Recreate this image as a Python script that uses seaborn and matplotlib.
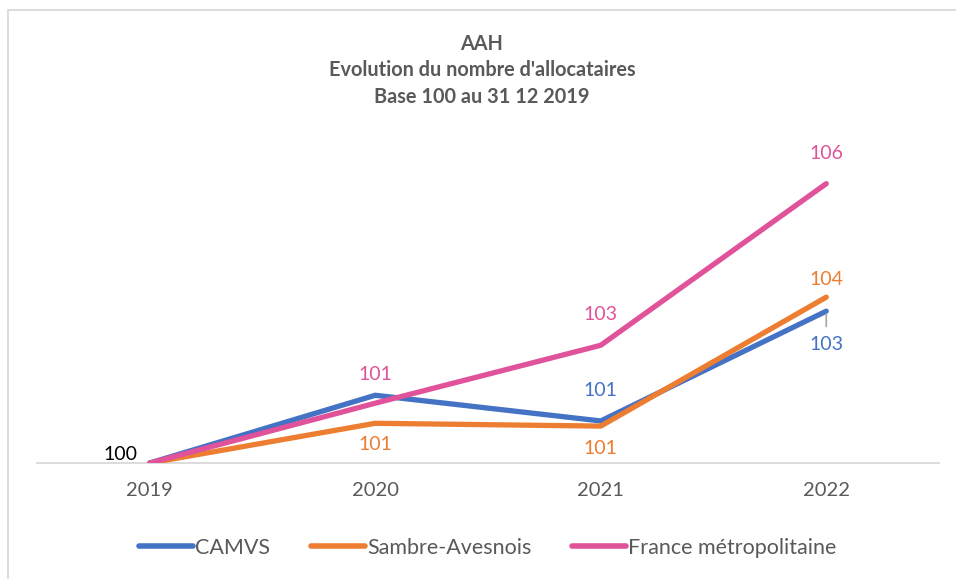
import numpy as np
import pandas as pd
import matplotlib
matplotlib.use("Agg")
import matplotlib.pyplot as plt
from matplotlib.patches import Rectangle
import seaborn as sns

# Data (base 100 at 31/12/2019)
years = ["2019", "2020", "2021", "2022"]
camvs = [100, 101.45, 100.9, 103.25]
sambre = [100, 100.85, 100.79, 103.55]
france = [100, 101.28, 102.52, 105.98]
series_names = ["CAMVS", "Sambre-Avesnois", "France métropolitaine"]
colors = ["#4472C4", "#ED7D31", "#E0529A"]

df = pd.DataFrame({
    "annee": years * 3,
    "valeur": camvs + sambre + france,
    "serie": np.repeat(series_names, len(years)),
})

sns.set_theme(style="white")
plt.rcParams["font.family"] = ["Lato", "DejaVu Sans"]

fig = plt.figure(figsize=(9.56, 5.79), dpi=100)
ax = fig.add_axes([37 / 956, 1 - 463 / 579, 902 / 956, 327 / 579])

sns.lineplot(data=df, x="annee", y="valeur", hue="serie", palette=colors,
             linewidth=3.8, sort=False, ax=ax, legend=True)
for line in ax.lines:
    line.set_solid_capstyle("round")
    line.set_solid_joinstyle("round")

ax.set_xlim(-0.5, 3.5)
ax.set_ylim(100, 107)
ax.set_xlabel("")
ax.set_ylabel("")
ax.set_yticks([])
ax.tick_params(axis="x", length=0, pad=14, labelsize=14.5, labelcolor="#595959")
for side in ["top", "right", "left"]:
    ax.spines[side].set_visible(False)
ax.spines["bottom"].set_color("#D9D9D9")
ax.spines["bottom"].set_linewidth(1.3)
ax.spines["bottom"].set_zorder(0)

# data labels (series index, year index, offset in points)
label_pos = [
    (1, 0, (-9, 6), "right", "#000000"),
    (2, 1, (0, 21), "center", None),
    (1, 1, (0, -15), "center", None),
    (0, 2, (0, 22), "center", None),
    (1, 2, (0, -16), "center", None),
    (2, 2, (0, 22), "center", None),
    (2, 3, (0, 22), "center", None),
    (1, 3, (0, 13), "center", None),
    (0, 3, (0, -24), "center", None),
]
all_vals = [camvs, sambre, france]
for s, i, off, ha, col in label_pos:
    v = all_vals[s][i]
    ax.annotate(f"{v:.0f}", (i, v), xytext=off, textcoords="offset points",
                ha=ha, va="center", fontsize=14,
                color=col if col else colors[s])

# leader line for CAMVS 2022 label
ax.annotate("", (3, camvs[3]), xytext=(0, -11), textcoords="offset points",
            arrowprops=dict(arrowstyle="-", color="#A6A6A6", lw=1.2,
                            shrinkA=0, shrinkB=2))

leg = ax.legend(loc="center", bbox_to_anchor=(0.5, 1 - (548 - 136) / 327),
                bbox_transform=ax.transAxes, ncol=3, frameon=False,
                fontsize=15.5, handlelength=2.5, handletextpad=0.1,
                columnspacing=1.9)
for t in leg.get_texts():
    t.set_color("#595959")
for h in leg.get_lines():
    h.set_linewidth(4)
    h.set_solid_capstyle("round")

title_lines = ["AAH", "Evolution du nombre d'allocataires", "Base 100 au 31 12 2019"]
for k, txt in enumerate(title_lines):
    fig.text(482 / 956, 1 - (44 + 26.5 * k) / 579, txt, ha="center", va="center",
             fontsize=14.3, fontweight="bold", color="#595959")

fig.patches.append(Rectangle((8 / 956, -0.05), 1.0, 1 - 10 / 579 + 0.05,
                             transform=fig.transFigure, fill=False,
                             edgecolor="#D9D9D9", linewidth=1.3))

fig.savefig("out.png", dpi=100)
